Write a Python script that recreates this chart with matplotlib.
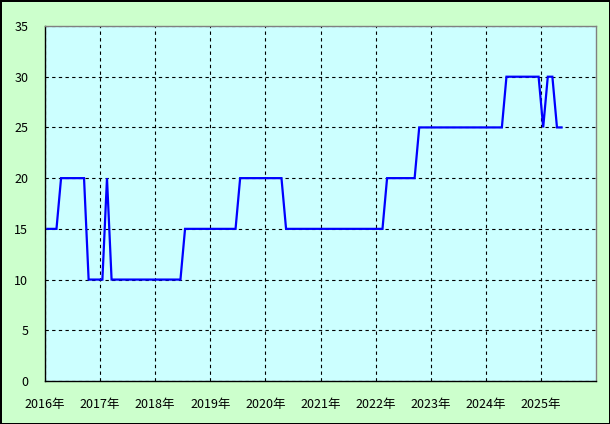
import matplotlib
matplotlib.use("Agg")
import matplotlib.pyplot as plt
import numpy as np

plt.rcParams['font.family'] = ['Noto Sans CJK JP', 'DejaVu Sans']

# 月ごとの値 (2016年1月 - 2025年5月)
values = [
    15, 15, 15, 20, 20, 20, 20, 20, 20, 10, 10, 10,   # 2016
    10, 20, 10, 10, 10, 10, 10, 10, 10, 10, 10, 10,   # 2017
    10, 10, 10, 10, 10, 10, 15, 15, 15, 15, 15, 15,   # 2018
    15, 15, 15, 15, 15, 15, 20, 20, 20, 20, 20, 20,   # 2019
    20, 20, 20, 20, 15, 15, 15, 15, 15, 15, 15, 15,   # 2020
    15, 15, 15, 15, 15, 15, 15, 15, 15, 15, 15, 15,   # 2021
    15, 15, 20, 20, 20, 20, 20, 20, 20, 25, 25, 25,   # 2022
    25, 25, 25, 25, 25, 25, 25, 25, 25, 25, 25, 25,   # 2023
    25, 25, 25, 25, 30, 30, 30, 30, 30, 30, 30, 30,   # 2024
    25, 30, 30, 25, 25,                               # 2025
]
years = [2016, 2017, 2018, 2019, 2020, 2021, 2022, 2023, 2024, 2025]
yticks = [0, 5, 10, 15, 20, 25, 30, 35]

months = np.arange(len(values)) + 0.5

fig = plt.figure(figsize=(6.1, 4.24), dpi=100, facecolor='#CCFFCC',
                 edgecolor='black', linewidth=2)
ax = fig.add_axes([45/610, 43/424, 551/610, 355/424])
ax.set_facecolor('#CCFFFF')

ax.plot(months, values, color='#0000FF', lw=1.6, solid_joinstyle='miter')

ax.set_xlim(0, 120)
ax.set_ylim(0, 35)
ax.set_xticks([12 * i for i in range(len(years))])
ax.set_xticklabels(['%d年' % y for y in years])
ax.set_yticks(yticks)
ax.tick_params(length=0, labelsize=9, colors='black')
ax.tick_params(axis='x', pad=12)
ax.tick_params(axis='y', pad=12)

ax.grid(True, color='black', linestyle=(0, (3, 3)), linewidth=0.8)
ax.set_axisbelow(True)

ax.spines['left'].set_color('black')
ax.spines['bottom'].set_color('black')
ax.spines['top'].set_color('#808080')
ax.spines['right'].set_color('#808080')
for s in ax.spines.values():
    s.set_linewidth(1)

fig.savefig('out.png', dpi=100, facecolor=fig.get_facecolor(),
            edgecolor=fig.get_edgecolor())
